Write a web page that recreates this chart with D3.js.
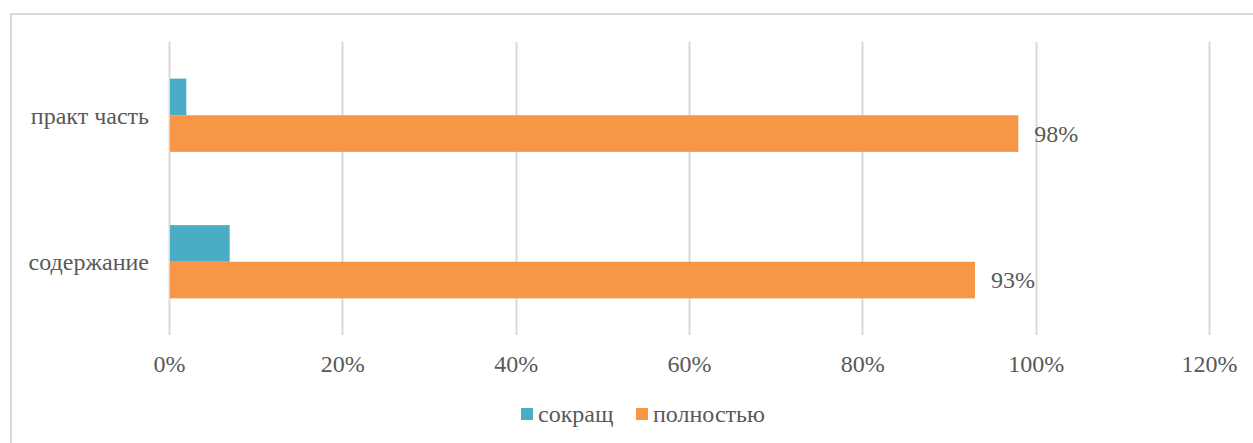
<!DOCTYPE html>
<html>
<head>
<meta charset="utf-8">
<script src="https://d3js.org/d3.v7.min.js"></script>
<style>
body { margin: 0; background: #fff; }
text { font-family: "Liberation Serif", "Times New Roman", serif; fill: #595959; }
</style>
</head>
<body>
<div id="canvas"></div>
<script>

var width = 1253;
var height = 443;

// data
var categories = ["практ часть", "содержание"];
var seriesNames = ["сокращ", "полностью"];
var sokrasch = [0.02, 0.07];
var polnostyu = [0.98, 0.93];
var ticks = [0, 0.2, 0.4, 0.6, 0.8, 1.0, 1.2];
var colors = ["#4BACC6", "#F79646"];

var fontSize = "24px";

var svg = d3.select("#canvas").append("svg")
    .attr("width", width)
    .attr("height", height);

// outer chart border
svg.append("rect")
    .attr("x", 11)
    .attr("y", 14)
    .attr("width", 1300)
    .attr("height", 500)
    .attr("fill", "none")
    .attr("stroke", "#d9d9d9")
    .attr("stroke-width", 2);

var plotLeft = 169, plotRight = 1209, plotTop = 42, plotBottom = 335;

var x = d3.scaleLinear().domain([0, 1.2]).range([plotLeft, plotRight]);
var y = d3.scaleBand().domain(categories).range([plotTop, plotBottom]).paddingInner(0.5).paddingOuter(0.25);
var ySub = d3.scaleBand().domain([0, 1]).range([0, y.bandwidth()]);

// grid
svg.append("g").selectAll("line")
    .data(ticks)
    .enter().append("line")
    .attr("x1", function(d) { return Math.round(x(d)) + 0.5; })
    .attr("x2", function(d) { return Math.round(x(d)) + 0.5; })
    .attr("y1", plotTop)
    .attr("y2", plotBottom)
    .attr("stroke", "#d9d9d9")
    .attr("stroke-width", 2);

var fmt = d3.format(".0%");

// x axis labels
var xAxis = d3.axisBottom(x).tickValues(ticks).tickSize(0).tickPadding(0).tickFormat(fmt);
var gx = svg.append("g").attr("transform", "translate(0,364)").call(xAxis)
    .attr("font-family", null).attr("font-size", null);
gx.select(".domain").remove();
gx.selectAll("text")
    .attr("dy", "0.35em")
    .attr("y", 0)
    .style("font-size", fontSize)
    .attr("fill", null);

// y axis labels
var yAxis = d3.axisLeft(y).tickSize(0).tickPadding(0);
var gy = svg.append("g").attr("transform", "translate(149,0)").call(yAxis)
    .attr("font-family", null).attr("font-size", null);
gy.select(".domain").remove();
gy.selectAll("text")
    .attr("dy", "0.35em")
    .style("font-size", fontSize)
    .attr("fill", null);

// bars
var series = [sokrasch, polnostyu];
series.forEach(function(vals, s) {
    svg.append("g").selectAll("rect")
        .data(vals)
        .enter().append("rect")
        .attr("x", x(0) + 1)
        .attr("y", function(d, i) { return y(categories[i]) + ySub(s); })
        .attr("width", function(d) { return x(d) - x(0) - 1; })
        .attr("height", ySub.bandwidth())
        .attr("fill", colors[s]);
});

// data labels for полностью
svg.append("g").selectAll("text")
    .data(polnostyu)
    .enter().append("text")
    .attr("x", function(d) { return x(d) + 16; })
    .attr("y", function(d, i) { return y(categories[i]) + ySub(1) + ySub.bandwidth() / 2; })
    .attr("dy", "0.35em")
    .style("font-size", fontSize)
    .text(function(d) { return fmt(d); });

// legend
var legendX = [521, 636];
seriesNames.forEach(function(name, i) {
    svg.append("rect")
        .attr("x", legendX[i])
        .attr("y", 408)
        .attr("width", 12)
        .attr("height", 12)
        .attr("fill", colors[i]);
    svg.append("text")
        .attr("x", legendX[i] + 17)
        .attr("y", 414)
        .attr("dy", "0.35em")
        .style("font-size", fontSize)
        .text(name);
});

</script>
</body>
</html>
